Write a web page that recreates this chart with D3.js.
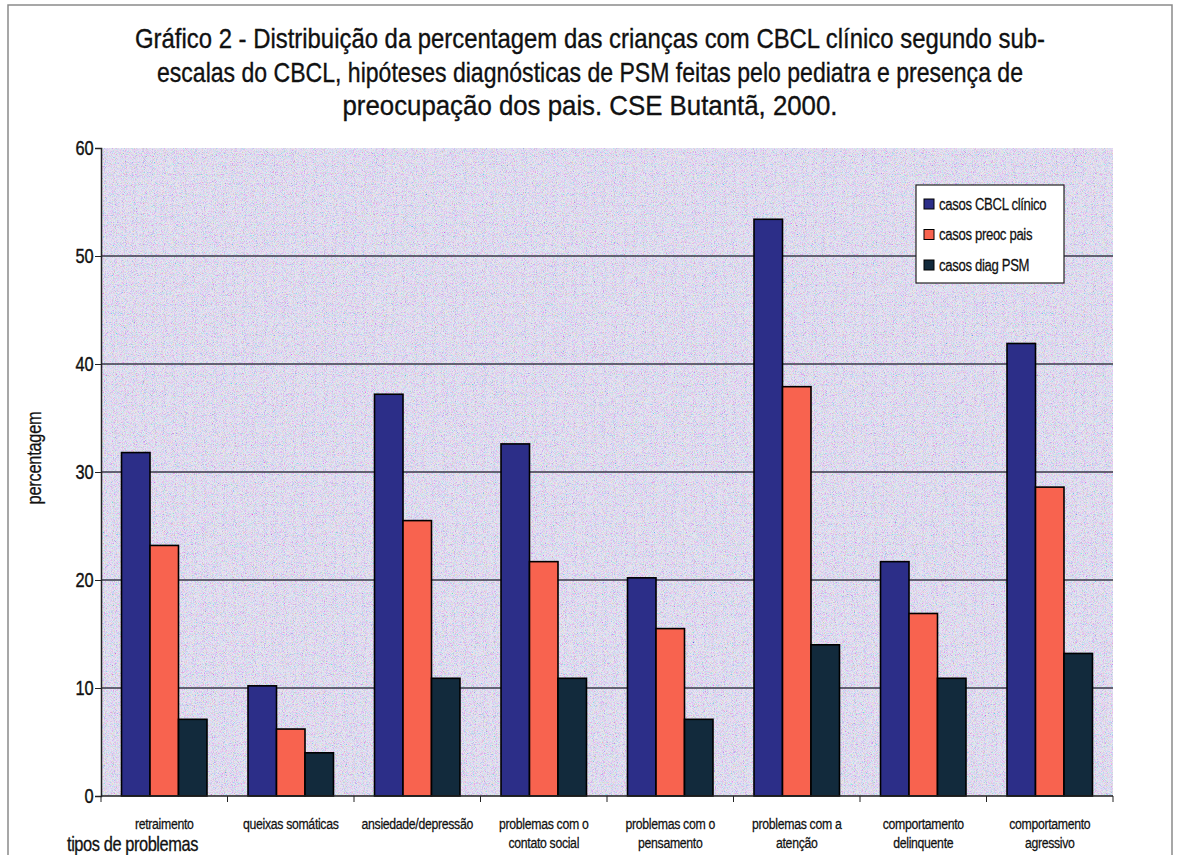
<!DOCTYPE html>
<html>
<head>
<meta charset="utf-8">
<script src="https://cdn.jsdelivr.net/npm/d3@7"></script>
<style>
  body { margin: 0; background: #fff; }
  svg text { font-family: "Liberation Sans", Arial, sans-serif; fill: #111; }
</style>
</head>
<body>
<svg width="1177" height="855"></svg>
<script>
// **** data ****
var categories = ["retraimento", "queixas somáticas", "ansiedade/depressão",
    "problemas com o|contato social", "problemas com o|pensamento",
    "problemas com a|atenção", "comportamento|delinquente", "comportamento|agressivo"];
var seriesNames = ["casos CBCL clínico", "casos preoc pais", "casos diag PSM"];
var cbclValues = [31.8, 10.2, 37.2, 32.6, 20.2, 53.4, 21.7, 41.9];
var preocValues = [23.2, 6.2, 25.5, 21.7, 15.5, 37.9, 16.9, 28.6];
var diagValues = [7.1, 4.0, 10.9, 10.9, 7.1, 14.0, 10.9, 13.2];
var yTicks = [0, 10, 20, 30, 40, 50, 60];
var titleLines = [
    "Gráfico 2 - Distribuição da percentagem das crianças com CBCL clínico segundo sub-",
    "escalas do CBCL, hipóteses diagnósticas de PSM feitas pelo pediatra e presença de",
    "preocupação dos pais. CSE Butantã, 2000."
];
var titleWidths = [910, 866, 495];

var colors = ["#2c2e88", "#f8634f", "#122a3c"];
var allValues = [cbclValues, preocValues, diagValues];
var narrow = 0.82; // Arial squeezed to look like Arial Narrow

var svg = d3.select('svg');

// frame round the whole chart
svg.append('path')
    .attr('d', 'M8,860 L8,5 L1172,5 L1172,860')
    .attr('fill', 'none')
    .attr('stroke', '#8a8a8a')
    .attr('stroke-width', 1.5);

// **** scales ****
var plotLeft = 101, plotRight = 1113, plotTop = 148, plotBottom = 796;

var xScale = d3.scaleBand()
    .domain(categories).range([plotLeft, plotRight]).padding(0);

var barScale = d3.scaleBand()
    .domain(seriesNames).range([0, xScale.bandwidth()])
    .paddingInner(0).paddingOuter(0.72);

var yScale = d3.scaleLinear()
    .domain([0, 60]).range([plotBottom, plotTop]);

// plot background with a grainy texture
var defs = svg.append('defs');
var filter = defs.append('filter').attr('id', 'grain')
    .attr('x', 0).attr('y', 0).attr('width', 1).attr('height', 1);
filter.append('feTurbulence')
    .attr('type', 'fractalNoise')
    .attr('baseFrequency', 1.1)
    .attr('numOctaves', 2)
    .attr('seed', 7);
filter.append('feColorMatrix')
    .attr('type', 'matrix')
    .attr('values', '2.4 0 0 0 -0.3  0 2.2 0 0 -0.25  0 0 2.2 0 -0.05  0 0 0 0 0.55');

svg.append('rect')
    .attr('x', plotLeft).attr('y', plotTop)
    .attr('width', plotRight - plotLeft).attr('height', plotBottom - plotTop)
    .attr('fill', '#ccc8e2');

svg.append('rect')
    .attr('x', plotLeft).attr('y', plotTop)
    .attr('width', plotRight - plotLeft).attr('height', plotBottom - plotTop)
    .attr('filter', 'url(#grain)');

// gridlines
svg.append('g').attr('class', 'grid')
    .selectAll('line')
    .data(yTicks.filter(function (d) { return d > 0 && d < 60; }))
    .enter().append('line')
    .attr('x1', plotLeft).attr('x2', plotRight)
    .attr('y1', function (d) { return yScale(d); })
    .attr('y2', function (d) { return yScale(d); })
    .attr('stroke', '#3a3a48')
    .attr('stroke-width', 1.3);

// **** bars ****
var groups = svg.append('g').selectAll('g')
    .data(categories)
    .enter().append('g')
    .attr('transform', function (d) { return 'translate(' + xScale(d) + ',0)'; });

groups.selectAll('rect')
    .data(function (d, i) {
        return seriesNames.map(function (s, k) {
            return { series: s, value: allValues[k][i], k: k };
        });
    })
    .enter().append('rect')
    .attr('x', function (d) { return barScale(d.series); })
    .attr('width', barScale.bandwidth())
    .attr('y', function (d) { return yScale(d.value); })
    .attr('height', function (d) { return yScale(0) - yScale(d.value); })
    .attr('fill', function (d) { return colors[d.k]; })
    .attr('stroke', '#000')
    .attr('stroke-width', 1.6);

// **** axes ****
var yAxis = svg.append('g').attr('class', 'y axis')
    .attr('transform', 'translate(' + plotLeft + ',0)')
    .call(d3.axisLeft(yScale).tickValues(yTicks).tickSize(6).tickPadding(3));
yAxis.select('.domain').attr('stroke', '#222').attr('stroke-width', 1.5);
yAxis.selectAll('.tick line').attr('stroke', '#222');
yAxis.selectAll('.tick text')
    .attr('font-size', 20)
    .attr('font-family', '"Liberation Sans", Arial, sans-serif')
    .attr('fill', '#111')
    .attr('stroke', '#111').attr('stroke-width', 0.4)
    .attr('transform', 'scale(' + narrow + ',1)');

// x axis: line and ticks at category boundaries
var xAxis = svg.append('g').attr('class', 'x axis');
xAxis.append('line')
    .attr('x1', plotLeft).attr('x2', plotRight)
    .attr('y1', plotBottom).attr('y2', plotBottom)
    .attr('stroke', '#222').attr('stroke-width', 1.5);
xAxis.selectAll('line.tick')
    .data(categories.concat(['end']))
    .enter().append('line')
    .attr('class', 'tick')
    .attr('x1', function (d) { return d === 'end' ? plotRight : xScale(d); })
    .attr('x2', function (d) { return d === 'end' ? plotRight : xScale(d); })
    .attr('y1', plotBottom).attr('y2', plotBottom + 6)
    .attr('stroke', '#222');

var labels = xAxis.selectAll('text.cat')
    .data(categories)
    .enter().append('text')
    .attr('class', 'cat')
    .attr('text-anchor', 'middle')
    .attr('font-size', 15)
    .attr('letter-spacing', -0.4)
    .attr('stroke', '#111').attr('stroke-width', 0.25)
    .attr('transform', function (d) {
        return 'translate(' + (xScale(d) + xScale.bandwidth() / 2) + ',829) scale(' + narrow + ',1)';
    });
labels.selectAll('tspan')
    .data(function (d) { return d.split('|'); })
    .enter().append('tspan')
    .attr('x', 0)
    .attr('dy', function (d, i) { return i === 0 ? 0 : 19; })
    .text(function (d) { return d; });

svg.append('text')
    .attr('transform', 'translate(67,851) scale(' + narrow + ',1)')
    .attr('font-size', 20)
    .attr('letter-spacing', -0.5)
    .attr('stroke', '#111').attr('stroke-width', 0.3)
    .text('tipos de problemas');

svg.append('text')
    .attr('transform', 'translate(41,458) rotate(-90) scale(' + narrow + ',1)')
    .attr('text-anchor', 'middle')
    .attr('font-size', 20)
    .attr('letter-spacing', -0.3)
    .attr('stroke', '#111').attr('stroke-width', 0.25)
    .text('percentagem');

// **** title ****
svg.append('g').selectAll('text')
    .data(titleLines)
    .enter().append('text')
    .attr('x', 590)
    .attr('y', function (d, i) { return 48 + i * 33.5; })
    .attr('text-anchor', 'middle')
    .attr('font-size', 28)
    .attr('textLength', function (d, i) { return titleWidths[i]; })
    .attr('lengthAdjust', 'spacingAndGlyphs')
    .attr('stroke', '#111').attr('stroke-width', 0.35)
    .text(function (d) { return d; });

// **** legend ****
var legend = svg.append('g').attr('transform', 'translate(916,185)');
legend.append('rect')
    .attr('width', 148).attr('height', 98)
    .attr('fill', '#fff').attr('stroke', '#222').attr('stroke-width', 1.2);
var items = legend.selectAll('g.item')
    .data(seriesNames)
    .enter().append('g')
    .attr('class', 'item')
    .attr('transform', function (d, i) { return 'translate(8,' + (19 + i * 30.5) + ')'; });
items.append('rect')
    .attr('x', 0).attr('y', -5)
    .attr('width', 10).attr('height', 10)
    .attr('fill', function (d, i) { return colors[i]; })
    .attr('stroke', '#000');
items.append('text')
    .attr('transform', 'translate(15,5.5) scale(' + narrow + ',1)')
    .attr('font-size', 16)
    .attr('letter-spacing', -0.4)
    .attr('stroke', '#111').attr('stroke-width', 0.25)
    .text(function (d) { return d; });
</script>
</body>
</html>
